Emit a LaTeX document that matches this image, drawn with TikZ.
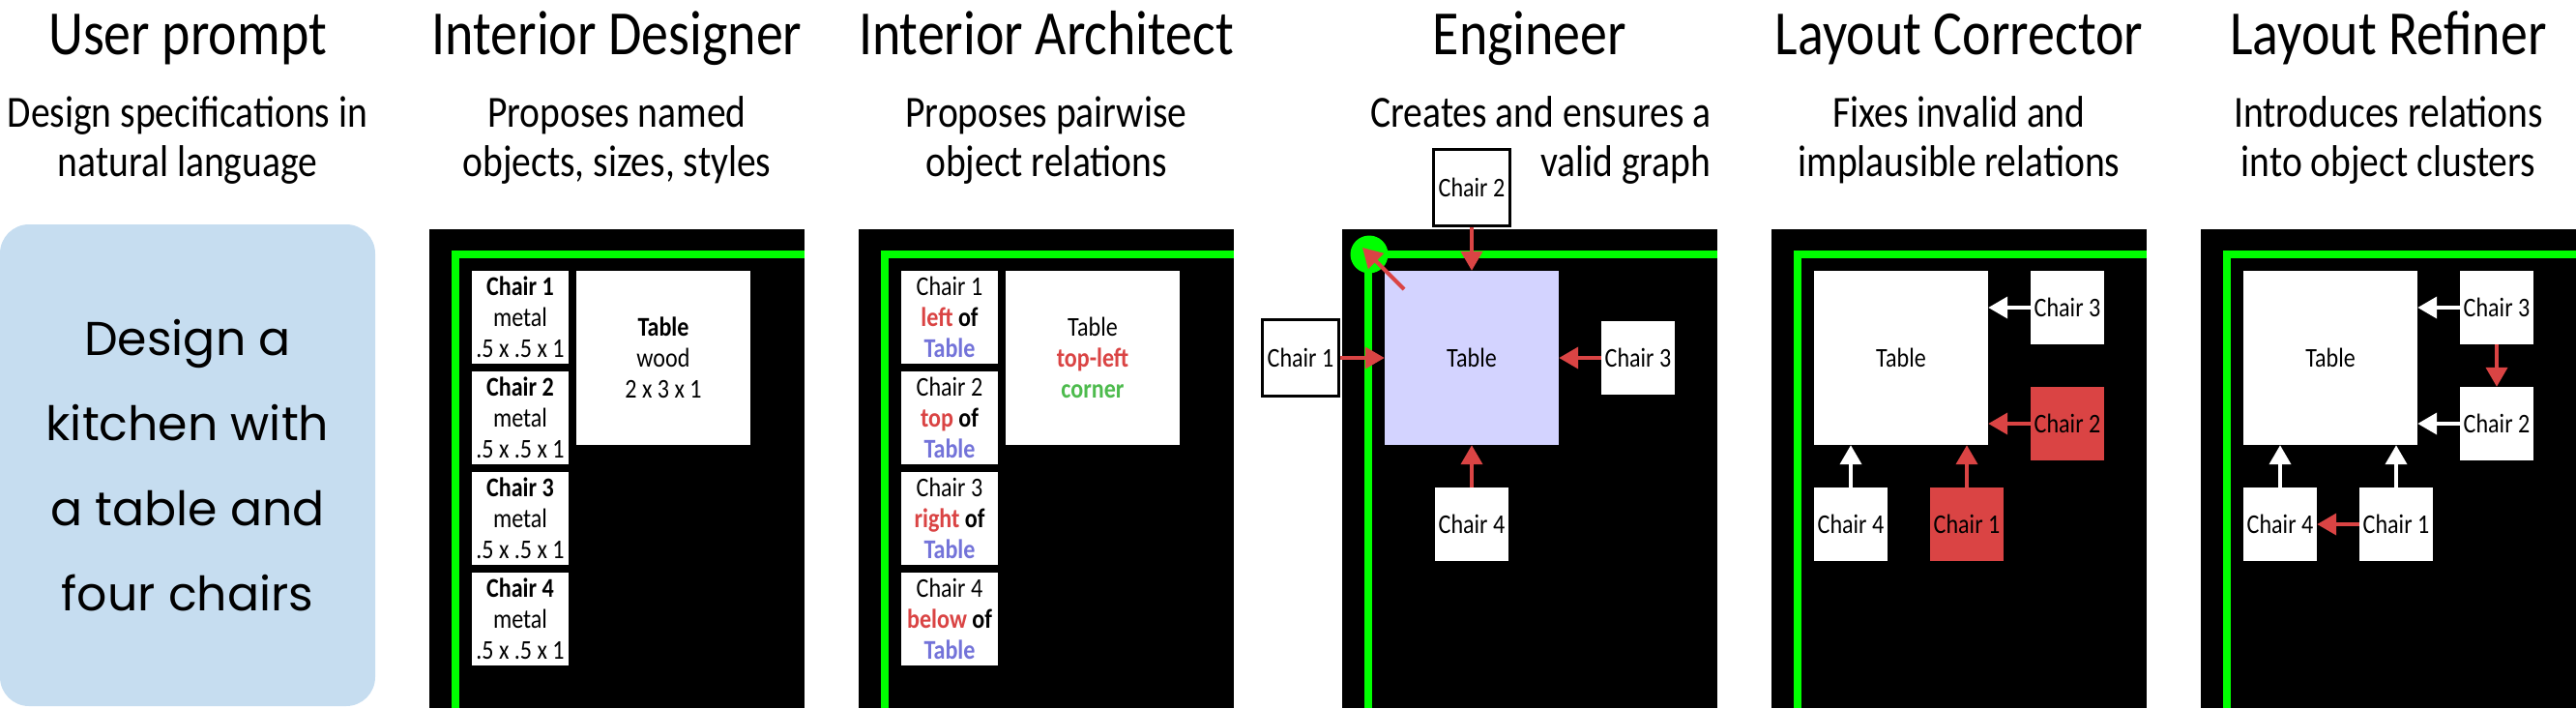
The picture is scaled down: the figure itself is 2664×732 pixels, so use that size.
\documentclass[tikz,border=0pt]{standalone}
\usepackage{fontspec}
\setmainfont{Carlito}[FakeStretch=0.86]
\newfontfamily\handfont{Poppins}
\usetikzlibrary{arrows.meta}

\definecolor{promptblue}{RGB}{198,221,240}
\definecolor{relred}{RGB}{218,68,68}
\definecolor{relblue}{RGB}{115,115,217}
\definecolor{relgreen}{RGB}{77,187,77}
\definecolor{wallgreen}{RGB}{0,255,0}
\definecolor{tablelav}{RGB}{211,211,255}

\newcommand\relword[1]{\textbf{\color{relred}#1}}
\newcommand\objword[1]{\textbf{\color{relblue}#1}}

\tikzset{
  title/.style={anchor=base, font=\fontsize{65}{78}\selectfont},
  subtitle/.style={anchor=base, align=center, font=\fontsize{46}{51}\selectfont},
  wall/.style={draw=wallgreen, line width=8pt},
  objbox/.style={fill=white, inner sep=0pt, align=center, font=\fontsize{28}{32}\selectfont},
  chairlist/.style={objbox, minimum width=100pt, minimum height=96pt},
  tablebox/.style={objbox, minimum size=180pt},
  chairsq/.style={objbox, minimum size=76pt},
  framed/.style={draw=black, line width=3pt, minimum size=79pt},
  relarrow/.style={line width=4pt, -{Triangle[width=22pt,length=20pt]}},
  redarrow/.style={relarrow, draw=relred},
  whitearrow/.style={relarrow, draw=white},
}

\begin{document}
\begin{tikzpicture}[x=1pt,y=1pt,yscale=-1]
\useasboundingbox (0,0) rectangle (2664,732);

% Titles
\node[title] (t-user) at (194,56) {User prompt};
\node[title] (t-designer) at (638,56) {Interior Designer};
\node[title] (t-architect) at (1082,56) {Interior Architect};
\node[title] (t-engineer) at (1582,56) {Engineer};
\node[title] (t-corrector) at (2026,56) {Layout Corrector};
\node[title] (t-refiner) at (2470,56) {Layout Refiner};

% Subtitles (base = last line)
\node[subtitle] (s-user) at (194,182) {Design specifications in\\natural language};
\node[subtitle] (s-designer) at (638,182) {Proposes named\\objects, sizes, styles};
\node[subtitle] (s-architect) at (1082,182) {Proposes pairwise\\object relations};
\node[subtitle, align=right, anchor=base east] (s-engineer) at (1773,182) {Creates and ensures a\\valid graph};
\node[subtitle] (s-corrector) at (2026,182) {Fixes invalid and\\implausible relations};
\node[subtitle] (s-refiner) at (2470,182) {Introduces relations\\into object clusters};

% User prompt
\node[fill=promptblue, rounded corners=30pt, minimum width=388pt, minimum height=498pt,
  inner sep=0pt, align=center, font=\handfont\fontsize{49}{88}\selectfont]
  (prompt) at (194,481) {Design a\\kitchen with\\a table and\\four chairs};

% Rooms: floor and walls
\foreach \px in {444,888,1388,1832,2276} {
  \fill[black] (\px,237) rectangle ++(388,495);
  \draw[wall] (\px+388,263) -- (\px+27,263) -- (\px+27,732);
}

% Interior Designer
\foreach \n/\y in {1/328,2/432,3/536,4/640}
  \node[chairlist] (d-c\n) at (538,\y) {\textbf{Chair \n}\\metal\\.5 x .5 x 1};
\node[tablebox] (d-table) at (686,370) {\textbf{Table}\\wood\\2 x 3 x 1};

% Interior Architect
\foreach \n/\y/\rl in {1/328/left,2/432/top,3/536/right,4/640/below}
  \node[chairlist] (a-c\n) at (982,\y) {Chair \n\\\relword{\rl} \textbf{of}\\\objword{Table}};
\node[tablebox] (a-table) at (1130,370) {Table\\\relword{top-left}\\\textbf{\color{relgreen}corner}};

% Engineer
\node[circle, fill=wallgreen, minimum size=39pt, inner sep=0pt] (e-corner) at (1416,263) {};
\node[tablebox, fill=tablelav] (e-table) at (1522,370) {Table};
\node[chairsq, framed] (e-c1) at (1345,370) {Chair 1};
\node[chairsq, framed] (e-c2) at (1522,194) {Chair 2};
\node[chairsq] (e-c3) at (1694,370) {Chair 3};
\node[chairsq] (e-c4) at (1522,542) {Chair 4};
\coordinate (e-from) at (1452,299);
\draw[redarrow] (e-c1) -- (e-table);
\draw[redarrow] (e-c2) -- (e-table);
\draw[redarrow] (e-c3) -- (e-table);
\draw[redarrow] (e-c4) -- (e-table);
\draw[redarrow, shorten >=-10pt] (e-from) -- (e-corner.center);

% Layout Corrector
\node[tablebox] (k-table) at (1966,370) {Table};
\node[chairsq] (k-c3) at (2138,318) {Chair 3};
\node[chairsq, fill=relred] (k-c2) at (2138,438) {Chair 2};
\node[chairsq] (k-c4) at (1914,542) {Chair 4};
\node[chairsq, fill=relred] (k-c1) at (2034,542) {Chair 1};
\draw[whitearrow] (k-c3.west) -- (k-c3.west -| k-table.east);
\draw[redarrow] (k-c2.west) -- (k-c2.west -| k-table.east);
\draw[whitearrow] (k-c4.north) -- (k-c4.north |- k-table.south);
\draw[redarrow] (k-c1.north) -- (k-c1.north |- k-table.south);

% Layout Refiner
\node[tablebox] (r-table) at (2410,370) {Table};
\node[chairsq] (r-c3) at (2582,318) {Chair 3};
\node[chairsq] (r-c2) at (2582,438) {Chair 2};
\node[chairsq] (r-c4) at (2358,542) {Chair 4};
\node[chairsq] (r-c1) at (2478,542) {Chair 1};
\draw[whitearrow] (r-c3.west) -- (r-c3.west -| r-table.east);
\draw[whitearrow] (r-c2.west) -- (r-c2.west -| r-table.east);
\draw[whitearrow] (r-c4.north) -- (r-c4.north |- r-table.south);
\draw[whitearrow] (r-c1.north) -- (r-c1.north |- r-table.south);
\draw[redarrow] (r-c3) -- (r-c2);
\draw[redarrow] (r-c1) -- (r-c4);

\end{tikzpicture}
\end{document}
